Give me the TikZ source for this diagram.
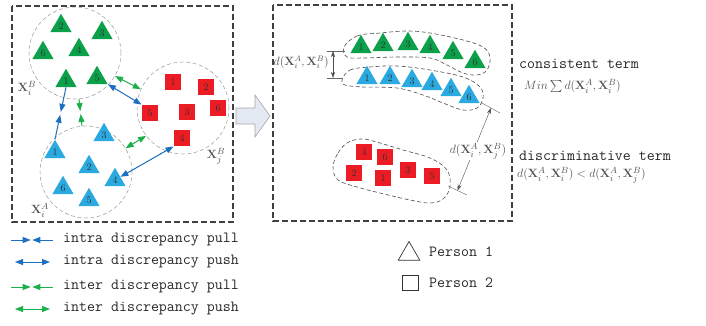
\documentclass[tikz,border=0pt]{standalone}
\usepackage{amsmath}
\usetikzlibrary{arrows.meta,shapes.geometric,calc}
\definecolor{tgreen}{HTML}{0BA04A}
\definecolor{tblue}{HTML}{2AAAE0}
\definecolor{tred}{HTML}{EC1C24}
\definecolor{ablue}{HTML}{1D6FBF}
\definecolor{agreen}{HTML}{1CB04B}
\definecolor{lbl}{HTML}{505050}
\definecolor{afill}{HTML}{E4EAF4}
\tikzset{
  numfont/.style={font=\fontsize{10}{10}\selectfont, text=black!80},
  tri/.style={regular polygon, regular polygon sides=3, minimum size=24.5pt, inner sep=0pt, numfont},
  gtri/.style={tri, fill=tgreen},
  btri/.style={tri, fill=tblue},
  rsq/.style={rectangle, minimum size=16.5pt, inner sep=0pt, fill=tred, numfont},
  grp/.style={circle, draw=gray!80, dash pattern=on 4pt off 2.5pt, line width=0.5pt, minimum size=92pt, inner sep=0pt},
  panel/.style={draw=black!75, dash pattern=on 6pt off 3pt, line width=1.1pt},
  blob/.style={draw=black!70, dash pattern=on 4pt off 2.5pt, line width=0.6pt},
  mlbl/.style={text=lbl, font=\fontsize{12}{12}\selectfont, inner sep=0pt},
  ttxt/.style={text=black!85, font=\fontsize{15.5}{18}\selectfont\ttfamily, inner sep=0pt, anchor=west},
  pullb/.style={ablue, line width=1pt, -{Triangle[length=8pt,width=6pt]}, shorten >=1.5pt},
  pushb/.style={ablue, line width=1pt, {Triangle[length=8pt,width=6pt]}-{Triangle[length=8pt,width=6pt]}},
  pullg/.style={agreen, line width=1pt, -{Triangle[length=8pt,width=6pt]}, shorten >=1.5pt},
  pushg/.style={agreen, line width=1pt, {Triangle[length=8pt,width=6pt]}-{Triangle[length=8pt,width=6pt]}},
  dist/.style={black!70, line width=0.4pt, {Stealth[length=6pt,width=4pt]}-{Stealth[length=6pt,width=4pt]}},
  tick/.style={black!60, line width=0.4pt}
}
\begin{document}
\begin{tikzpicture}[x=1pt,y=-1pt]
\useasboundingbox (0,0) rectangle (706,325);
% panels
\draw[panel] (12,6) rectangle (233,222);
\draw[panel] (273,5) rectangle (512,221);
% block arrow
\draw[fill=afill, draw=gray!70, line width=0.6pt] (236,108) -- (255,108) -- (255,95) -- (270,116) -- (255,137) -- (255,124) -- (236,124) -- cycle;

% ---------- left panel ----------
\node[grp] (cB) at (75,53) {};
\node[grp] (cJ) at (183,108) {};
\node[grp] (cA) at (86,172) {};

\node[gtri] (g2) at (61,26) {2};
\node[gtri] (g3) at (102,33) {3};
\node[gtri] (g6) at (43,53) {6};
\node[gtri] (g4) at (79,50) {4};
\node[gtri] (g1) at (66,81) {1};
\node[gtri] (g5) at (97,78) {5};

\node[rsq] (r1) at (173,82) {1};
\node[rsq] (r2) at (206,87) {2};
\node[rsq] (r6) at (218,108) {6};
\node[rsq] (r3) at (187,112) {3};
\node[rsq] (r5) at (150,113) {5};
\node[rsq] (r4) at (182,138) {4};

\node[btri] (b3) at (104,135) {3};
\node[btri] (b1) at (55,152) {1};
\node[btri] (b2) at (89,167) {2};
\node[btri] (b4) at (115,180) {4};
\node[btri] (b6) at (63,188) {6};
\node[btri] (b5) at (89,200) {5};

\node[mlbl, font=\fontsize{13}{13}\selectfont] (lB) at (27,88) {$\mathbf{X}_i^B$};
\node[mlbl, font=\fontsize{13}{13}\selectfont] (lJ) at (216,156) {$\mathbf{X}_j^B$};
\node[mlbl, font=\fontsize{13}{13}\selectfont] (lA) at (40,210) {$\mathbf{X}_i^A$};

% connectors
\coordinate (pbm) at ($(g1.south)!0.5!(b1.north)$);
\draw[pullb] (g1.south) -- (pbm);
\draw[pullb] (b1.north) -- (pbm);
\coordinate (pgm) at ($(cB.-85)!0.5!(cA.95)$);
\draw[pullg] (cB.-85) -- (pgm);
\draw[pullg] (cA.95) -- (pgm);
\draw[pushg] (cB.-30) -- (cJ.156);
\draw[pushb] (g5.corner 3) -- (r5.north west);
\draw[pushg] (cA.31) -- (cJ.217);
\draw[pushb] (b4.30) -- (r4.south west);

% ---------- right panel ----------
\draw[blob] plot[smooth cycle, tension=0.6] coordinates {(344,47) (357,36) (380,33) (407,31) (430,33) (463,40) (483,47) (490,57) (487,70) (477,75) (463,73) (447,65) (430,58) (397,57) (363,58) (347,57)};
\draw[blob] plot[smooth cycle, tension=0.6] coordinates {(342,80) (350,70) (370,67) (397,66) (430,70) (463,77) (480,87) (483,98) (477,108) (463,110) (443,103) (423,95) (397,88) (363,87) (345,85)};
\draw[blob] plot[smooth cycle, tension=0.6] coordinates {(333,167) (338,153) (347,143) (360,139) (373,141) (403,150) (430,158) (447,170) (450,187) (443,199) (430,203) (410,200) (380,193) (357,187) (338,180)};

\node[gtri] (G1) at (361,47) {1};
\node[gtri] (G2) at (383,45) {2};
\node[gtri] (G3) at (408,44) {3};
\node[gtri] (G4) at (430,47) {4};
\node[gtri] (G5) at (453,53) {5};
\node[gtri] (G6) at (475,62) {6};

\node[btri] (B1) at (367,78) {1};
\node[btri] (B2) at (390,78) {2};
\node[btri] (B3) at (412,81) {3};
\node[btri] (B4) at (432,84) {4};
\node[btri] (B5) at (451,90) {5};
\node[btri] (B6) at (469,97) {6};

\node[rsq] (R4) at (364,152) {4};
\node[rsq] (R6) at (385,157) {6};
\node[rsq] (R2) at (354,173) {2};
\node[rsq] (R1) at (383,178) {1};
\node[rsq] (R3) at (408,170) {3};
\node[rsq] (R5) at (432,176) {5};

% distance markers
\coordinate (t1a) at (327,51);
\coordinate (t1b) at (345,51);
\coordinate (t2a) at (327,78);
\coordinate (t2b) at (343,78);
\draw[tick] (t1a) -- (t1b);
\draw[tick] (t2a) -- (t2b);
\coordinate (d1a) at (333,51);
\coordinate (d1b) at (333,78);
\draw[dist] (d1a) -- (d1b);
\node[mlbl, anchor=east] (dl1) at (329,62) {$d(\mathbf{X}_i^A,\mathbf{X}_i^B)$};

\coordinate (t3a) at (482,103);
\coordinate (t3b) at (500,113);
\coordinate (t4a) at (448,186);
\coordinate (t4b) at (467,195);
\draw[tick] (t3a) -- (t3b);
\draw[tick] (t4a) -- (t4b);
\coordinate (d2a) at (491,108);
\coordinate (d2b) at (457.5,190.5);
\draw[dist] (d2b) -- (d2a);
\node[mlbl, fill=white, inner sep=1pt, font=\fontsize{13}{13}\selectfont] (dl2) at (478,151) {$d(\mathbf{X}_i^A,\mathbf{X}_j^B)$};

% right texts
\node[ttxt] (ct) at (519,64) {consistent term};
\node[mlbl, anchor=west, font=\fontsize{13}{13}\selectfont] (cf) at (524,86) {$Min\textstyle\sum d(\mathbf{X}_i^A,\mathbf{X}_i^B)$};
\node[ttxt] (dt) at (519,156) {discriminative term};
\node[mlbl, anchor=west, font=\fontsize{13}{13}\selectfont] (df) at (517,175) {$d(\mathbf{X}_i^A,\mathbf{X}_i^B)<d(\mathbf{X}_i^A,\mathbf{X}_j^B)$};

% ---------- legend ----------
\coordinate (l1a) at (11,240);
\coordinate (l1b) at (53,240);
\coordinate (l1m) at (31.5,240);
\draw[pullb, shorten >=0.8pt] (l1a) -- (l1m);
\draw[pullb, shorten >=0.8pt] (l1b) -- (l1m);
\node[ttxt] (t1) at (63,240) {intra discrepancy pull};

\coordinate (l2a) at (15,262);
\coordinate (l2b) at (50,262);
\draw[pushb] (l2a) -- (l2b);
\node[ttxt] (t2) at (63,262) {intra discrepancy push};

\coordinate (l3a) at (11,287);
\coordinate (l3b) at (53,287);
\coordinate (l3m) at (31.5,287);
\draw[pullg, shorten >=0.8pt] (l3a) -- (l3m);
\draw[pullg, shorten >=0.8pt] (l3b) -- (l3m);
\node[ttxt] (t3) at (63,287) {inter discrepancy pull};

\coordinate (l4a) at (15,309);
\coordinate (l4b) at (50,309);
\draw[pushg] (l4a) -- (l4b);
\node[ttxt] (t4) at (63,309) {inter discrepancy push};

\node[regular polygon, regular polygon sides=3, minimum size=25pt, inner sep=0pt, draw=black!80, line width=0.7pt] (p1) at (409,254) {};
\node[ttxt] (p1t) at (429,252) {Person 1};
\node[rectangle, minimum size=15.5pt, inner sep=0pt, draw=black!80, line width=0.7pt] (p2) at (410.5,283) {};
\node[ttxt] (p2t) at (429,283) {Person 2};
\end{tikzpicture}
\end{document}
